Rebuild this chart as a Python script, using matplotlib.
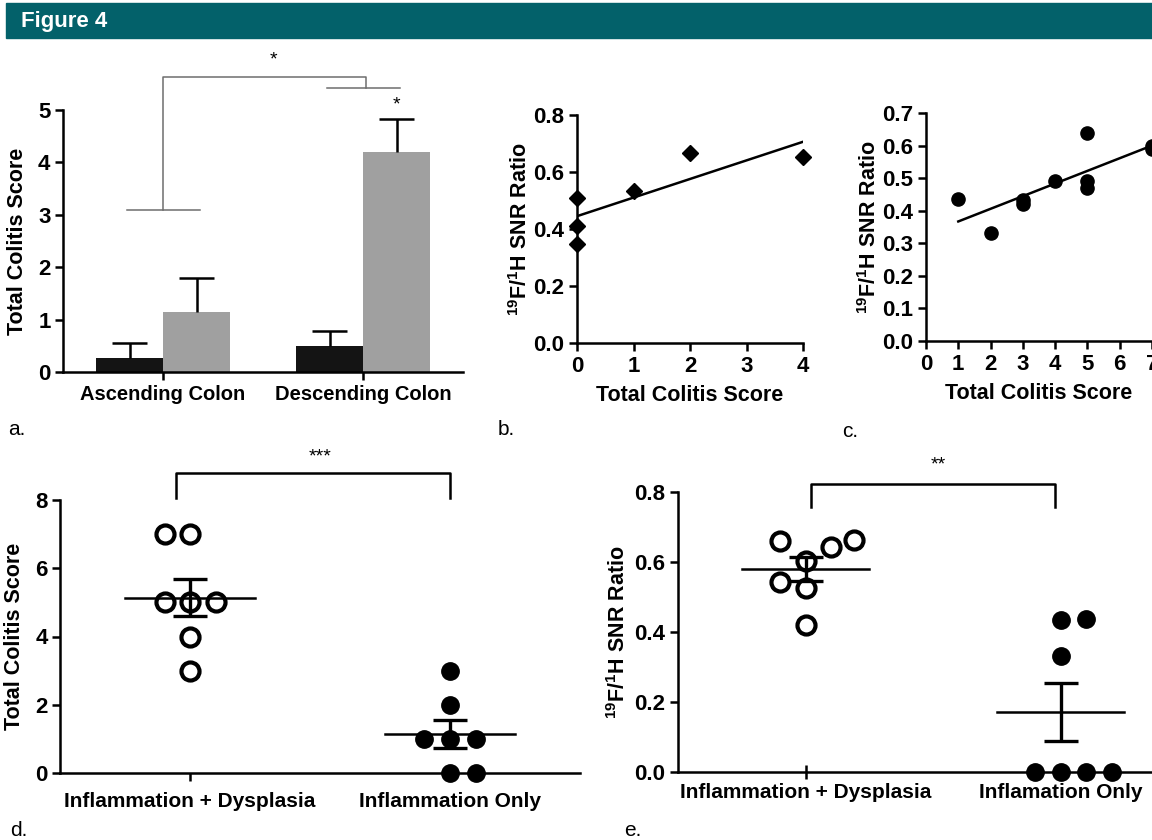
import matplotlib.pyplot as plt
from matplotlib.patches import Rectangle

plt.rcParams["font.family"] = ["Liberation Sans", "DejaVu Sans"]
plt.rcParams["font.weight"] = "bold"
plt.rcParams["axes.labelweight"] = "bold"
plt.rcParams["mathtext.fontset"] = "custom"
plt.rcParams["mathtext.bf"] = "Liberation Sans:bold"
plt.rcParams["mathtext.rm"] = "Liberation Sans:bold"
plt.rcParams["mathtext.default"] = "bf"

W, H = 1152, 840
HEADER_COLOR = "#03616a"
BLACK_BAR = "#141414"
GRAY_BAR = "#a0a0a0"
BRACKET_GRAY = "#6e6e6e"
LW = 1.8
SNR_LABEL = r"$^{19}$F/$^{1}$H SNR Ratio"
NARROW = ["Liberation Sans Narrow", "Liberation Sans"]

# --- a: colitis score by colon region ---
a_regions = ["Ascending Colon", "Descending Colon"]
a_black = [0.27, 0.49]
a_black_err = [0.29, 0.29]
a_gray = [1.14, 4.19]
a_gray_err = [0.66, 0.64]

# --- b: SNR ratio vs colitis score (diamonds) ---
b_score = [0, 0, 0, 1, 2, 4]
b_ratio = [0.51, 0.41, 0.347, 0.532, 0.666, 0.654]
b_fit_x = [0, 4]
b_fit_y = [0.445, 0.706]

# --- c: SNR ratio vs colitis score (circles) ---
c_score = [1, 2, 3, 3, 4, 5, 5, 5, 7, 7]
c_ratio = [0.437, 0.333, 0.434, 0.42, 0.49, 0.639, 0.492, 0.471, 0.598, 0.59]
c_fit_x = [1, 7]
c_fit_y = [0.367, 0.600]

# --- d: colitis score by group ---
d_groups = ["Inflammation + Dysplasia", "Inflammation Only"]
d_dys_x = [0.905, 1.0, 0.905, 1.0, 1.1, 1.0, 1.0]
d_dys_y = [7, 7, 5, 5, 5, 4, 3]
d_inf_x = [2.0, 2.0, 1.9, 2.0, 2.1, 2.0, 2.1]
d_inf_y = [3, 2, 1, 1, 1, 0, 0]
d_mean = [5.14, 1.14]
d_sem = [0.55, 0.41]

# --- e: SNR ratio by group ---
e_groups = ["Inflammation + Dysplasia", "Inflamation Only"]
e_dys_x = [0.9, 1.0, 0.9, 1.0, 1.0, 1.1, 1.19]
e_dys_y = [0.661, 0.602, 0.542, 0.526, 0.421, 0.643, 0.664]
e_inf_x = [2.0, 2.1, 2.0, 1.9, 2.0, 2.1, 2.2]
e_inf_y = [0.435, 0.437, 0.332, 0, 0, 0, 0]
e_mean = [0.58, 0.172]
e_sem = [0.034, 0.083]


def px_axes(fig, left, top, right, bottom):
    """Add axes from pixel box (origin top-left)."""
    return fig.add_axes([left / W, 1 - bottom / H, (right - left) / W, (bottom - top) / H])


def style(ax, size=16):
    for s in ["top", "right"]:
        ax.spines[s].set_visible(False)
    for s in ["left", "bottom"]:
        ax.spines[s].set_linewidth(LW)
    ax.tick_params(width=LW, length=6, labelsize=size, pad=3)


def panel_label(x, y, s):
    fig.text(x / W, 1 - y / H, s, fontsize=15, fontweight="normal", family=NARROW, va="center")


fig = plt.figure(figsize=(W / 100, H / 100), dpi=100)

# header band
fig.patches.append(Rectangle((6 / W, 1 - 38 / H), 1, 35 / H, transform=fig.transFigure,
                             color=HEADER_COLOR, zorder=0))
fig.text(21 / W, 1 - 21 / H, "Figure 4", color="white", fontsize=16, fontweight="bold",
         family=NARROW, va="center", ha="left")

# ---------------- a ----------------
ax = px_axes(fig, 63, 110, 463, 372)
x = [0, 1]
bw = 0.335
cap = 0.088
for offs, vals, errs, col in [(-bw / 2, a_black, a_black_err, BLACK_BAR),
                              (bw / 2, a_gray, a_gray_err, GRAY_BAR)]:
    xs = [i + offs for i in x]
    ax.bar(xs, vals, bw, color=col, zorder=2)
    # upward-only error bars, cap on top only
    tops = [v + e for v, e in zip(vals, errs)]
    ax.vlines(xs, vals, tops, color="black", lw=LW, zorder=3)
    ax.hlines(tops, [p - cap for p in xs], [p + cap for p in xs], color="black", lw=LW, zorder=3)
ax.set_xlim(-0.5, 1.5)
ax.set_ylim(0, 5)
ax.set_xticks(x)
ax.set_xticklabels(a_regions)
ax.set_yticks(range(0, 6))
ax.set_ylabel("Total Colitis Score", fontsize=15.5, labelpad=7)
style(ax)
ax.tick_params(axis="x", labelsize=14.5)
br = dict(color=BRACKET_GRAY, lw=1.1, clip_on=False)
ax.plot([-0.18, 0.185], [3.09, 3.09], **br)
ax.plot([0.0, 0.0, 1.015, 1.015], [3.09, 5.63, 5.63, 5.42], **br)
ax.plot([0.82, 1.185], [5.42, 5.42], **br)
ax.text(0.55, 5.95, "*", ha="center", va="center", fontsize=14, fontweight="normal")
ax.text(1.165, 5.1, "*", ha="center", va="center", fontsize=14, fontweight="normal")
panel_label(8, 430, "a.")

# ---------------- b ----------------
ax = px_axes(fig, 577, 115, 803, 343)
ax.plot(b_score, b_ratio, "D", color="black", ms=8.5, clip_on=False, zorder=3)
ax.plot(b_fit_x, b_fit_y, color="black", lw=LW)
ax.set_xlim(0, 4)
ax.set_ylim(0, 0.8)
ax.set_xticks(range(0, 5))
b_ticks = [0, 0.2, 0.4, 0.6, 0.8]
ax.set_yticks(b_ticks)
ax.set_yticklabels([f"{v:.1f}" for v in b_ticks])
ax.set_xlabel("Total Colitis Score", fontsize=15.5, labelpad=6)
ax.set_ylabel(SNR_LABEL, fontsize=15.5, labelpad=1)
style(ax)
panel_label(498, 430, "b.")

# ---------------- c ----------------
ax = px_axes(fig, 926, 113, 1152, 341)
ax.plot(c_score, c_ratio, "o", color="black", ms=9.5, clip_on=False, zorder=3)
ax.plot(c_fit_x, c_fit_y, color="black", lw=LW)
ax.set_xlim(0, 7)
ax.set_ylim(0, 0.7)
ax.set_xticks(range(0, 8))
c_ticks = [0, 0.1, 0.2, 0.3, 0.4, 0.5, 0.6, 0.7]
ax.set_yticks(c_ticks)
ax.set_yticklabels([f"{v:.1f}" for v in c_ticks])
ax.set_xlabel("Total Colitis Score", fontsize=15.5, labelpad=6)
ax.set_ylabel(SNR_LABEL, fontsize=15.5, labelpad=1)
style(ax)
panel_label(842, 432, "c.")


def group_plot(ax, dys_x, dys_y, inf_x, inf_y, means, sems):
    ax.plot(dys_x, dys_y, "o", ms=13, mfc="white", mec="black", mew=3, clip_on=False, zorder=3)
    ax.plot(inf_x, inf_y, "o", ms=12.5, color="black", clip_on=False, zorder=3)
    for i, (m, s) in enumerate(zip(means, sems)):
        c = i + 1
        ax.plot([c - 0.25, c + 0.25], [m, m], color="black", lw=LW, zorder=4)
        ax.errorbar([c], [m], yerr=[s], fmt="none", ecolor="black", elinewidth=2.4,
                    capsize=12, capthick=2.4, zorder=4)
    ax.set_xlim(0.5, 2.5)
    ax.set_xticks([1, 2])


# ---------------- d ----------------
ax = px_axes(fig, 60, 500, 580, 773)
group_plot(ax, d_dys_x, d_dys_y, d_inf_x, d_inf_y, d_mean, d_sem)
ax.set_xticklabels(d_groups)
ax.set_ylim(0, 8)
ax.set_yticks(range(0, 9, 2))
ax.set_ylabel("Total Colitis Score", fontsize=15.5, labelpad=7)
style(ax)
ax.tick_params(axis="x", labelsize=15, pad=8)
ax.plot([0.946, 0.946, 2.0, 2.0], [8.06, 8.79, 8.79, 8.06], color="black", lw=LW, clip_on=False)
ax.text(1.5, 9.27, "***", ha="center", va="center", fontsize=14, fontweight="normal")
panel_label(10, 830, "d.")

# ---------------- e ----------------
ax = px_axes(fig, 678, 492, 1188, 772)
group_plot(ax, e_dys_x, e_dys_y, e_inf_x, e_inf_y, e_mean, e_sem)
ax.set_xticklabels(e_groups)
ax.set_ylim(0, 0.8)
e_ticks = [0, 0.2, 0.4, 0.6, 0.8]
ax.set_yticks(e_ticks)
ax.set_yticklabels([f"{v:.1f}" for v in e_ticks])
ax.set_ylabel(SNR_LABEL, fontsize=15.5, labelpad=3)
style(ax)
ax.tick_params(axis="x", labelsize=15, direction="inout", length=10)
ax.plot([1.02, 1.02, 1.98, 1.98], [0.757, 0.823, 0.823, 0.757], color="black", lw=LW, clip_on=False)
ax.text(1.52, 0.877, "**", ha="center", va="center", fontsize=14, fontweight="normal")
panel_label(624, 830, "e.")

fig.savefig("out.png", dpi=100)
